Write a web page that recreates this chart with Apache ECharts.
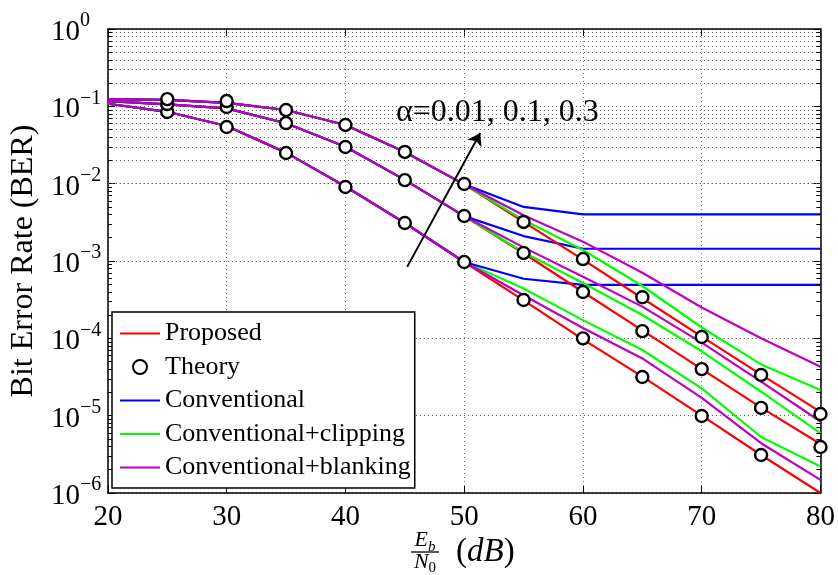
<!DOCTYPE html>
<html><head><meta charset="utf-8">
<script src="https://cdn.jsdelivr.net/npm/echarts@6/dist/echarts.min.js"></script>
<style>html,body{margin:0;padding:0;background:#fff}#c{width:838px;height:575px}</style>
</head><body><div id="c"></div>
<script>
// ---------- data ----------
const snr = [20,25,30,35,40,45,50,55,60,65,70,75,80];
const theorySnr = [25,30,35,40,45,50,55,60,65,70,75,80];

// alpha = 0.01
const proposedA1     = [0.108,0.085,0.0557,0.0252,0.0092,0.0031,0.00097,3.1e-4,9.7e-5,3.2e-5,1.0e-5,3.1e-6,1.0e-6];
const conventionalA1 = [0.108,0.085,0.0557,0.0252,0.0092,0.0031,0.00097,5.9e-4,4.9e-4,4.9e-4,4.9e-4,4.9e-4,4.9e-4];
const clippingA1     = [0.108,0.085,0.0557,0.0252,0.0092,0.0031,0.00097,4.4e-4,1.72e-4,7.06e-5,2.25e-5,5.3e-6,2.2e-6];
const blankingA1     = [0.108,0.085,0.0557,0.0252,0.0092,0.0031,0.00097,3.6e-4,1.36e-4,5.5e-5,1.7e-5,4.4e-6,1.48e-6];
const theoryA1       = [0.0845,0.054,0.0249,0.00906,0.0031,0.00097,3.13e-4,1.0e-4,3.16e-5,9.9e-6,3.1e-6];

// alpha = 0.1
const proposedA2     = [0.117,0.106,0.094,0.0604,0.030,0.0112,0.0038,0.00126,3.97e-4,1.27e-4,4.0e-5,1.27e-5,4.3e-6];
const conventionalA2 = [0.117,0.106,0.094,0.0604,0.030,0.0112,0.0038,0.0021,0.00144,0.00144,0.00144,0.00144,0.00144];
const clippingA2     = [0.117,0.106,0.094,0.0604,0.030,0.0112,0.0038,0.0013,5.2e-4,2.0e-4,6.8e-5,2.04e-5,5.9e-6];
const blankingA2     = [0.117,0.106,0.094,0.0604,0.030,0.0112,0.0038,0.0015,6.27e-4,2.57e-4,8.8e-5,2.75e-5,8.4e-6];
const theoryA2       = [0.107,0.098,0.0608,0.0298,0.0111,0.00382,0.00127,3.97e-4,1.24e-4,4.0e-5,1.26e-5,3.93e-6];

// alpha = 0.3
const proposedA3     = [0.124,0.121,0.111,0.0897,0.0574,0.0257,0.0098,0.0032,0.00104,3.3e-4,1.05e-4,3.4e-5,1.12e-5];
const conventionalA3 = [0.124,0.121,0.111,0.0897,0.0574,0.0257,0.0098,0.0050,0.0040,0.0040,0.0040,0.0040,0.0040];
const clippingA3     = [0.124,0.121,0.111,0.0897,0.0574,0.0257,0.0098,0.0034,0.00139,4.75e-4,1.38e-4,4.6e-5,2.15e-5];
const blankingA3     = [0.124,0.121,0.111,0.0897,0.0574,0.0257,0.0098,0.0039,0.00178,7.06e-4,2.5e-4,1.0e-4,4.3e-5];
const theoryA3       = [0.124,0.117,0.0897,0.0574,0.0257,0.0099,0.0032,0.00106,3.4e-4,1.04e-4,3.36e-5,1.05e-5];

const legendNames = ['Proposed','Theory','Conventional','Conventional+clipping','Conventional+blanking'];
const annotationText = '\u03b1=0.01, 0.1, 0.3';
const arrowStart = [45.2, 8.4e-4];
const arrowEnd = [51.35, 0.0452];

// ---------- styling ----------
const FONT = '"Liberation Serif","Times New Roman",serif';
const RED = '#ff0000', BLUE = '#0000ff', GREEN = '#00ff00', MAG = '#bf00bf';

function pts(xs, ys){ return ys.map((y,i)=>[xs[i], y]); }
function lineS(name, color, ys){
  return {type:'line', name, data: pts(snr, ys), symbol:'none', showSymbol:false,
    lineStyle:{color, width:2.2}, itemStyle:{color}, animation:false, z:2, silent:true};
}
function theoryS(ys){
  return {type:'scatter', name:'Theory', data: pts(theorySnr, ys), symbol:'circle', symbolSize:12,
    itemStyle:{color:'#fff', borderColor:'#000', borderWidth:2.4, opacity:1}, z:5, animation:false, silent:true};
}

// minor grid values (2..9 x 10^n)
const minorVals = [];
for (let n=-6; n<0; n++) for (let k=2; k<=9; k++) minorVals.push(k*Math.pow(10,n));

const gridLines = {type:'line', data:[], silent:true, animation:false, z:1,
  markLine:{silent:true, symbol:'none', animation:false, label:{show:false},
    lineStyle:{color:'#555', type:[1,3], width:1},
    data: minorVals.map(v=>({yAxis:v}))}};
const tickSegs = [];
minorVals.forEach(v=>{
  tickSegs.push([{coord:[20, v]},{coord:[20.35, v]}]);
  tickSegs.push([{coord:[79.65, v]},{coord:[80, v]}]);
});
const minorTicks = {type:'line', data:[], silent:true, animation:false, z:3,
  markLine:{silent:true, symbol:'none', animation:false, label:{show:false},
    lineStyle:{color:'#000', type:'solid', width:1}, data: tickSegs}};
const arrow = {type:'line', data:[], silent:true, animation:false, z:6,
  markLine:{silent:true, symbol:['none','arrow'], symbolSize:12, animation:false, label:{show:false},
    lineStyle:{color:'#000', type:'solid', width:2},
    data:[[{coord:arrowStart},{coord:arrowEnd}]]}};

const series = [gridLines, minorTicks];
[[proposedA1,clippingA1,conventionalA1,blankingA1],[proposedA2,clippingA2,conventionalA2,blankingA2],[proposedA3,clippingA3,conventionalA3,blankingA3]].forEach(g=>{
  series.push(lineS('Proposed', RED, g[0]));
  series.push(lineS('Conventional+clipping', GREEN, g[1]));
  series.push(lineS('Conventional', BLUE, g[2]));
  series.push(lineS('Conventional+blanking', MAG, g[3]));
});
series.push(theoryS(theoryA1), theoryS(theoryA2), theoryS(theoryA3));
series.push(arrow);

const axisLineStyle = {color:'#000', width:1.5};
const supLabel = v => {
  const e = Math.round(Math.log10(v));
  return '{b|10}{s|' + (e<0 ? '\u2212' + (-e) : e) + '}';
};
const LINE_ICON = 'path://M0,0H40V2H0Z';
const legendColors = {'Proposed':RED, 'Conventional':BLUE, 'Conventional+clipping':GREEN, 'Conventional+blanking':MAG};
const legendData = legendNames.map(n => n === 'Theory'
  ? {name:n, icon:'circle'}
  : {name:n, icon:LINE_ICON, itemStyle:{color:legendColors[n]}});

const option = {
  backgroundColor:'#fff',
  animation:false,
  grid:{left:107, right:17, top:29, bottom:82, containLabel:false},
  xAxis:[
    {type:'value', min:20, max:80, interval:10, position:'bottom',
     axisLine:{onZero:false, lineStyle:axisLineStyle},
     axisTick:{inside:true, length:7, lineStyle:{color:'#000', width:1}},
     axisLabel:{color:'#000', fontFamily:FONT, fontSize:29, margin:10},
     splitLine:{show:true, lineStyle:{color:'#777', type:[1,3], width:1}}},
    {type:'value', min:20, max:80, interval:10, position:'top',
     axisLine:{onZero:false, lineStyle:axisLineStyle},
     axisTick:{inside:true, length:7, lineStyle:{color:'#000', width:1}},
     axisLabel:{show:false}, splitLine:{show:false}}
  ],
  yAxis:[
    {type:'log', logBase:10, min:1e-6, max:1, splitNumber:6, position:'left',
     axisLine:{onZero:false, lineStyle:axisLineStyle},
     axisTick:{inside:true, length:7, lineStyle:{color:'#000', width:1}},
     axisLabel:{formatter:supLabel, align:'left', margin:57, padding:[7,0,0,0],
       rich:{
         b:{fontFamily:FONT, fontSize:29, lineHeight:29, color:'#000', verticalAlign:'bottom'},
         s:{fontFamily:FONT, fontSize:20, lineHeight:20, color:'#000', verticalAlign:'bottom', padding:[0,0,16,0]}
       }},
     splitLine:{show:true, lineStyle:{color:'#555', type:[1,3], width:1}},
     name:'Bit Error Rate (BER)', nameLocation:'middle', nameRotate:90, nameGap:62,
     nameTextStyle:{fontFamily:FONT, fontSize:32, color:'#000'}},
    {type:'log', logBase:10, min:1e-6, max:1, splitNumber:6, position:'right',
     axisLine:{onZero:false, lineStyle:axisLineStyle},
     axisTick:{inside:true, length:7, lineStyle:{color:'#000', width:1}},
     axisLabel:{show:false}, splitLine:{show:false}}
  ],
  legend:{
    data: legendData, orient:'vertical', left:112, top:312,
    padding:[8,4,7,8], itemGap:6.5, itemWidth:40, itemHeight:14,
    backgroundColor:'#fff', borderColor:'#000', borderWidth:1.5, borderRadius:0,
    textStyle:{fontFamily:FONT, fontSize:26, lineHeight:27, color:'#000'},
    selectedMode:false
  },
  graphic:[
    {type:'text', x:396, y:113, z:10, style:{text:annotationText, font:'32px '+FONT, fill:'#000', verticalAlign:'middle'}},
    {type:'text', x:425, y:529, z:10, style:{text:'{i|E}{s|b}', align:'center', verticalAlign:'top',
      rich:{i:{fontFamily:FONT, fontStyle:'italic', fontSize:22, lineHeight:22, verticalAlign:'top', fill:'#000'},
            s:{fontFamily:FONT, fontStyle:'italic', fontSize:15, lineHeight:15, verticalAlign:'top', padding:[11,0,0,0], fill:'#000'}}}},
    {type:'line', z:10, shape:{x1:411, y1:552, x2:439, y2:552}, style:{stroke:'#000', lineWidth:1.3}},
    {type:'text', x:425, y:551, z:10, style:{text:'{i|N}{s|0}', align:'center', verticalAlign:'top',
      rich:{i:{fontFamily:FONT, fontStyle:'italic', fontSize:22, lineHeight:22, verticalAlign:'top', fill:'#000'},
            s:{fontFamily:FONT, fontSize:15, lineHeight:15, verticalAlign:'top', padding:[10,0,0,0], fill:'#000'}}}},
    {type:'text', x:456, y:552, z:10, style:{text:'{r|(}{i|dB}{r|)}', verticalAlign:'middle',
      rich:{r:{fontFamily:FONT, fontSize:33, fill:'#000'}, i:{fontFamily:FONT, fontStyle:'italic', fontSize:33, fill:'#000'}}}}
  ],
  series
};
const chart = echarts.init(document.getElementById('c'), null, {renderer:'canvas'});
chart.setOption(option);
</script>
</body></html>
